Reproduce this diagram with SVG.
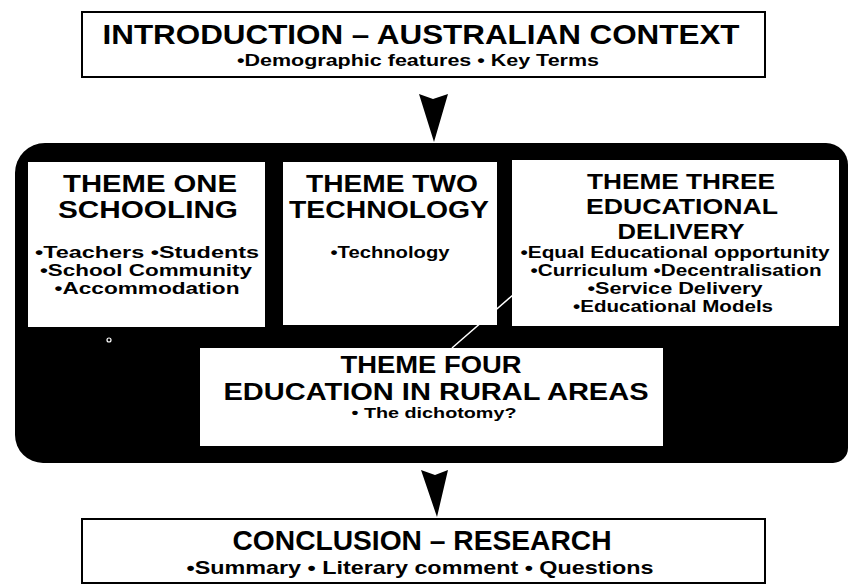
<svg xmlns="http://www.w3.org/2000/svg" width="849" height="585" viewBox="0 0 849 585">
<style>
text{font-family:"Liberation Sans",Arial,Helvetica,sans-serif;font-weight:bold;fill:#000;text-anchor:middle}
.frame{fill:#fff;stroke:#000;stroke-width:2}
.wbox{fill:#fff}
.h1{font-size:28px}
.sub{font-size:16px}
.th{font-size:24px}
.th3{font-size:22px}
.bl{font-size:16px}
.cond{font-size:24px}
.arrow{fill:#000}
</style>
<rect width="849" height="585" fill="#fff"/>
<g id="intro">
<rect class="frame" x="82" y="12" width="683" height="65"/>
<text class="h1" x="421" y="44" textLength="637" lengthAdjust="spacingAndGlyphs">INTRODUCTION – AUSTRALIAN CONTEXT</text>
<text class="sub" x="418" y="66" textLength="362" lengthAdjust="spacingAndGlyphs">•Demographic features • Key Terms</text>
</g>
<g id="themes-frame">
<path d="M45,143 H826 A22,22 0 0 1 848,165 V448 A15,15 0 0 1 833,463 H43 A28,28 0 0 1 15,435 V173 A30,30 0 0 1 45,143 Z" fill="#000"/>
<circle cx="109" cy="340" r="2" fill="none" stroke="#fff" stroke-width="1.2"/>
</g>
<g id="theme-one">
<rect class="wbox" x="28" y="162" width="237" height="165"/>
<text class="th" x="150" y="192" textLength="174" lengthAdjust="spacingAndGlyphs">THEME ONE</text>
<text class="th" x="148" y="218" textLength="180" lengthAdjust="spacingAndGlyphs">SCHOOLING</text>
<text class="bl" x="147" y="258" textLength="224" lengthAdjust="spacingAndGlyphs">•Teachers •Students</text>
<text class="bl" x="146" y="276" textLength="212" lengthAdjust="spacingAndGlyphs">•School Community</text>
<text class="bl" x="147" y="294" textLength="185" lengthAdjust="spacingAndGlyphs">•Accommodation</text>
</g>
<g id="theme-two">
<rect class="wbox" x="283" y="162" width="214" height="163"/>
<text class="th" x="392" y="192" textLength="172" lengthAdjust="spacingAndGlyphs">THEME TWO</text>
<text class="th" x="389" y="218" textLength="200" lengthAdjust="spacingAndGlyphs">TECHNOLOGY</text>
<text class="bl" x="390" y="258" textLength="119" lengthAdjust="spacingAndGlyphs">•Technology</text>
</g>
<g id="theme-three">
<rect class="wbox" x="512" y="160" width="327" height="166"/>
<text class="th3" x="681" y="189" textLength="188" lengthAdjust="spacingAndGlyphs">THEME THREE</text>
<text class="th3" x="682" y="214" textLength="192" lengthAdjust="spacingAndGlyphs">EDUCATIONAL</text>
<text class="th3" x="681" y="239" textLength="127" lengthAdjust="spacingAndGlyphs">DELIVERY</text>
<text class="bl" x="675" y="258" textLength="309" lengthAdjust="spacingAndGlyphs">•Equal Educational opportunity</text>
<text class="bl" x="676" y="276" textLength="291" lengthAdjust="spacingAndGlyphs">•Curriculum •Decentralisation</text>
<text class="bl" x="675" y="294" textLength="175" lengthAdjust="spacingAndGlyphs">•Service Delivery</text>
<text class="bl" x="673" y="312" textLength="200" lengthAdjust="spacingAndGlyphs">•Educational Models</text>
</g>
<g id="theme-four">
<rect class="wbox" x="200" y="348" width="463" height="98"/>
<text class="cond" x="431" y="373" textLength="181" lengthAdjust="spacingAndGlyphs">THEME FOUR</text>
<text class="cond" x="436" y="400" textLength="425" lengthAdjust="spacingAndGlyphs">EDUCATION IN RURAL AREAS</text>
<text class="sub" x="434" y="418" style="font-size:15px" textLength="165" lengthAdjust="spacingAndGlyphs">• The dichotomy?</text>
</g>
<g id="conclusion">
<rect class="frame" x="82" y="519" width="683" height="64"/>
<text class="h1" x="422" y="550" textLength="379" lengthAdjust="spacingAndGlyphs">CONCLUSION – RESEARCH</text>
<text class="sub" x="420" y="574" style="font-size:19px" textLength="467" lengthAdjust="spacingAndGlyphs">•Summary • Literary comment • Questions</text>
</g>
<g id="connectors">
<path class="arrow" d="M419,94 L433,99 L448,94 L434,142 Z"/>
<path class="arrow" d="M421,470 L435,475 L448,470 L437,517 Z"/>
<line x1="513" y1="295" x2="452" y2="348" stroke="#fff" stroke-width="1.5"/>
</g>
</svg>
